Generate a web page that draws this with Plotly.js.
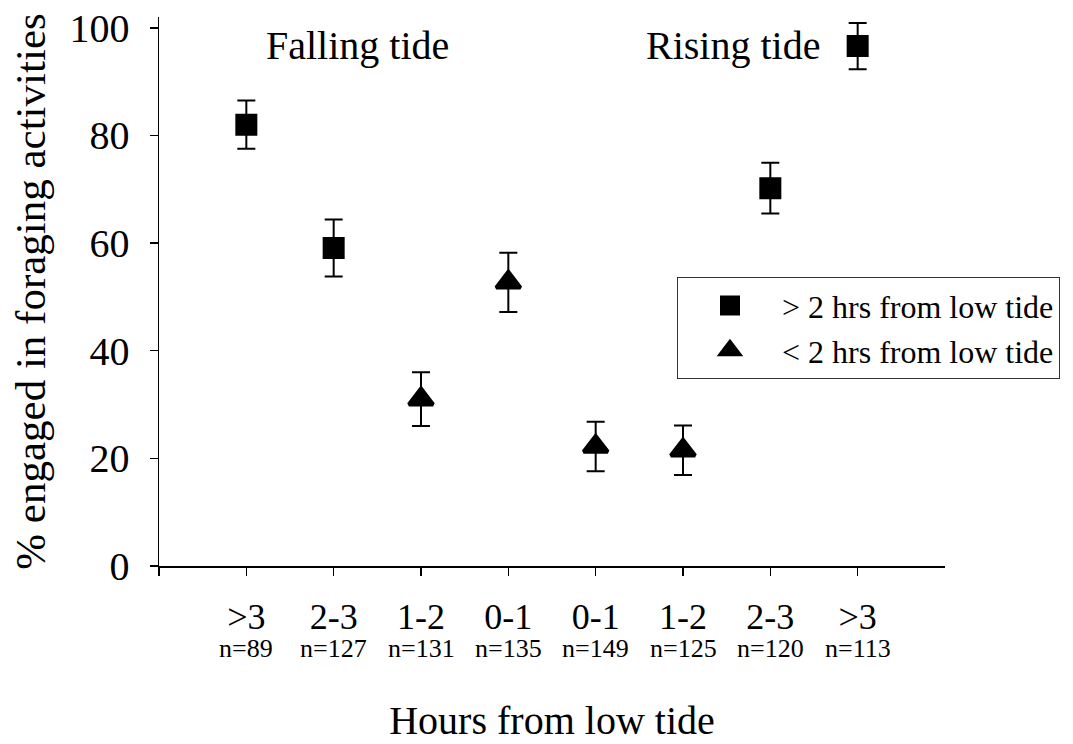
<!DOCTYPE html>
<html>
<head>
<meta charset="utf-8">
<script src="https://cdn.plot.ly/plotly-3.0.1.min.js"></script>
<style>html,body{margin:0;padding:0;background:#fff;}#chart{width:1073px;height:744px;}</style>
</head>
<body>
<div id="chart"></div>
<script>
// Time-from-low-tide categories (falling tide, then rising tide)
const xLabels = ['&gt;3', '2-3', '1-2', '0-1', '0-1', '1-2', '2-3', '&gt;3'];
const sampleSizes = [89, 127, 131, 135, 149, 125, 120, 113];
// % engaged in foraging activities and error (±)
const pctForaging = [82.0, 59.1, 31.0, 52.7, 22.2, 21.5, 70.2, 96.6];
const errForaging = [4.5, 5.3, 5.0, 5.5, 4.6, 4.6, 4.7, 4.3];
// group: true = > 2 hrs from low tide, false = < 2 hrs from low tide
const moreThan2h = [true, true, false, false, false, false, true, true];
const seriesNames = ['&gt; 2 hrs from low tide', '&lt; 2 hrs from low tide'];
const tideLabels = ['Falling tide', 'Rising tide'];

const FONT = '"Liberation Serif", "Times New Roman", Times, serif';
const xPos = xLabels.map((_, i) => i + 1);

function pick(flag) {
  const xs = [], ys = [], es = [];
  xPos.forEach((x, i) => {
    if (moreThan2h[i] === flag) { xs.push(x); ys.push(pctForaging[i]); es.push(errForaging[i]); }
  });
  return {xs, ys, es};
}
const sq = pick(true), tri = pick(false);

function trace(d, name, symbol, size) {
  return {
    type: 'scatter', mode: 'markers', name: name,
    x: d.xs, y: d.ys, cliponaxis: false,
    marker: {symbol: symbol, size: size, color: '#000', line: {color: '#000', width: 4}},
    error_y: {type: 'data', array: d.es, visible: true, color: '#000', thickness: 2, width: 9}
  };
}

const data = [
  trace(sq, seriesNames[0], 'square', 18),
  trace(tri, seriesNames[1], 'triangle-up', 21)
];

const annotations = sampleSizes.map((n, i) => ({
  x: xPos[i], xref: 'x', y: -0.151, yref: 'paper',
  text: 'n=' + n, showarrow: false, xanchor: 'center', yanchor: 'middle',
  font: {family: FONT, size: 26, color: '#000'}
}));
annotations.push({x: 2.27, xref: 'x', y: 0.948, yref: 'paper', text: tideLabels[0], showarrow: false,
  xanchor: 'center', yanchor: 'middle', font: {family: FONT, size: 40, color: '#000'}});
annotations.push({x: 6.57, xref: 'x', y: 0.948, yref: 'paper', text: tideLabels[1], showarrow: false,
  xanchor: 'center', yanchor: 'middle', font: {family: FONT, size: 40, color: '#000'}});

const layout = {
  width: 1073, height: 744,
  margin: {l: 159, r: 128, t: 17, b: 178},
  paper_bgcolor: '#fff', plot_bgcolor: '#fff',
  font: {family: FONT, color: '#000'},
  showlegend: true,
  legend: {
    x: 0.659, y: 0.526, xanchor: 'left', yanchor: 'top',
    bordercolor: '#333', borderwidth: 1, bgcolor: '#fff',
    font: {family: FONT, size: 32, color: '#000'},
    itemwidth: 94
  },
  xaxis: {
    range: [0, 9], showgrid: false, zeroline: false,
    showline: true, linecolor: '#000', linewidth: 1.5,
    ticks: 'outside', ticklen: 8, tickwidth: 1.5, tickcolor: '#000',
    tickmode: 'array', tickvals: [0].concat(xPos), ticktext: [''].concat(xLabels),
    tickfont: {family: FONT, size: 36, color: '#000'},
    ticklabelstandoff: 10,
    title: {text: 'Hours from low tide', font: {family: FONT, size: 40, color: '#000'}, standoff: 70},
    automargin: false
  },
  yaxis: {
    range: [0, 102], showgrid: false, zeroline: false,
    showline: true, linecolor: '#000', linewidth: 1.5,
    ticks: 'outside', ticklen: 8, tickwidth: 1.5, tickcolor: '#000',
    tickmode: 'array', tickvals: [0, 20, 40, 60, 80, 100],
    tickfont: {family: FONT, size: 40, color: '#000'},
    ticklabelstandoff: 12,
    title: {text: '% engaged in foraging activities', font: {family: FONT, size: 43, color: '#000'}, standoff: 10},
    automargin: false
  },
  annotations: annotations
};

Plotly.newPlot('chart', data, layout, {displayModeBar: false, staticPlot: true});
</script>
</body>
</html>
